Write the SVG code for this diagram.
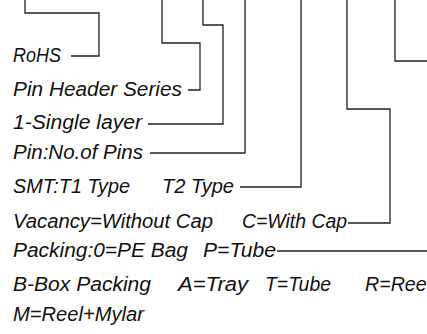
<svg xmlns="http://www.w3.org/2000/svg" width="427" height="334" viewBox="0 0 427 334">
<style>
text{font-family:"Liberation Sans","DejaVu Sans",sans-serif;font-style:italic;font-size:20px;fill:#111}
.c{fill:none;stroke:#222;stroke-width:1.3}
</style>
<rect width="427" height="334" fill="#fff"/>
<g id="connectors">
<polyline class="c" points="25,0 25,13 99,13 99,56 71,56"/>
<polyline class="c" points="162,0 162,43 200,43 200,90 188,90"/>
<polyline class="c" points="203,0 203,25 223,25 223,124 148,124"/>
<polyline class="c" points="245,0 245,153 150,153"/>
<polyline class="c" points="301,0 301,187 240,187"/>
<polyline class="c" points="347,0 347,109 390,109 390,223 348,223"/>
<polyline class="c" points="395,0 395,61 427,61"/>
<polyline class="c" points="277,251 427,251"/>
</g>
<g id="rohs"><text x="13" y="62" textLength="48" lengthAdjust="spacingAndGlyphs">RoHS</text></g>
<g id="series"><text x="13" y="96" textLength="169" lengthAdjust="spacingAndGlyphs">Pin Header Series</text></g>
<g id="layer"><text x="13" y="129" textLength="129" lengthAdjust="spacingAndGlyphs">1-Single layer</text></g>
<g id="pins"><text x="13" y="159" textLength="130" lengthAdjust="spacingAndGlyphs">Pin:No.of Pins</text></g>
<g id="type"><text x="13" y="193" textLength="117" lengthAdjust="spacingAndGlyphs">SMT:T1 Type</text><text x="162" y="193" textLength="72" lengthAdjust="spacingAndGlyphs">T2 Type</text></g>
<g id="cap"><text x="13" y="228" textLength="200" lengthAdjust="spacingAndGlyphs">Vacancy=Without Cap</text><text x="242" y="228" textLength="105" lengthAdjust="spacingAndGlyphs">C=With Cap</text></g>
<g id="packing"><text x="13" y="257" textLength="175" lengthAdjust="spacingAndGlyphs">Packing:0=PE Bag</text><text x="203" y="257" textLength="73" lengthAdjust="spacingAndGlyphs">P=Tube</text></g>
<g id="packing2"><text x="13" y="291" textLength="138" lengthAdjust="spacingAndGlyphs">B-Box Packing</text><text x="178" y="291" textLength="70" lengthAdjust="spacingAndGlyphs">A=Tray</text><text x="265" y="291" textLength="66" lengthAdjust="spacingAndGlyphs">T=Tube</text><text x="365" y="291" textLength="66" lengthAdjust="spacingAndGlyphs">R=Reel</text></g>
<g id="packing3"><text x="13" y="321" textLength="131" lengthAdjust="spacingAndGlyphs">M=Reel+Mylar</text></g>
</svg>
